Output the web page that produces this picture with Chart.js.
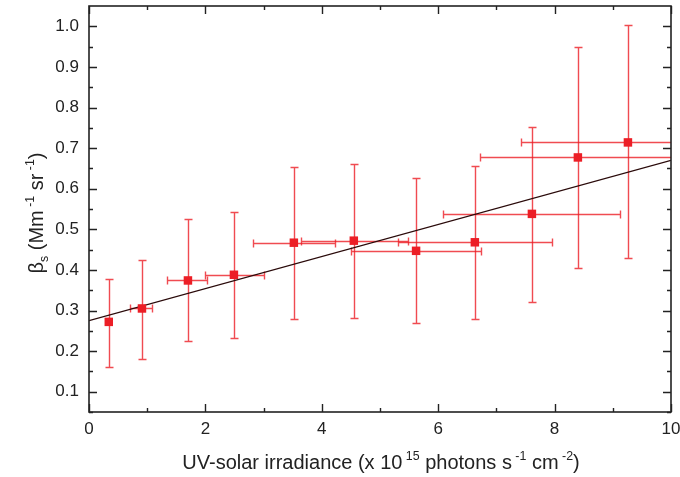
<!DOCTYPE html>
<html>
<head>
<meta charset="utf-8">
<script src="https://cdn.jsdelivr.net/npm/chart.js@4.4.0/dist/chart.umd.min.js"></script>
<style>
  html, body { margin: 0; padding: 0; background: #fff; }
  #wrap { width: 680px; height: 477px; }
</style>
</head>
<body>
<div id="wrap"><canvas id="myChart" width="680" height="477"></canvas></div>
<script>
// measured points (UV irradiance x 1e15, beta_s)
const xVals = [0.34, 0.91, 1.70, 2.49, 3.52, 4.55, 5.62, 6.63, 7.61, 8.40, 9.26];
const yVals = [0.272, 0.305, 0.374, 0.388, 0.467, 0.472, 0.447, 0.468, 0.538, 0.677, 0.714];
const xLow  = [0.34, 0.70, 1.34, 2.00, 2.82, 3.64, 4.50, 5.31, 6.08, 6.72, 7.42];
const xHigh = [0.34, 1.08, 2.03, 3.00, 4.23, 5.48, 6.74, 7.96, 9.12, 10.1, 11.1];
const yLow  = [0.162, 0.181, 0.226, 0.233, 0.280, 0.282, 0.268, 0.280, 0.322, 0.405, 0.430];
const yHigh = [0.378, 0.425, 0.525, 0.543, 0.654, 0.660, 0.626, 0.655, 0.752, 0.948, 1.002];

// linear fit line end points
const fitX = [0, 10];
const fitY = [0.275, 0.670];

const xTickLabels = ['0', '2', '4', '6', '8', '10'];
const yTickLabels = ['0.1', '0.2', '0.3', '0.4', '0.5', '0.6', '0.7', '0.8', '0.9', '1.0'];

const red = 'rgb(236,30,38)';
const barRed = 'rgba(236,30,38,0.8)';
const ink = '#222';
const font = '"Liberation Sans", Arial, sans-serif';

// draw text made of pieces, some raised or lowered
function richText(ctx, parts, size) {
    const widths = parts.map((p) => {
        ctx.font = (p.s ? size * 0.62 : size) + 'px ' + font;
        return ctx.measureText(p.t).width;
    });
    const total = widths.reduce((a, b) => a + b, 0);
    let x = -total / 2;
    parts.forEach((p, i) => {
        ctx.font = (p.s ? size * 0.62 : size) + 'px ' + font;
        const dy = p.s === 'sup' ? -size * 0.45 : p.s === 'sub' ? size * 0.25 : 0;
        ctx.fillText(p.t, x, dy);
        x += widths[i];
    });
}

const errorBars = {
    id: 'errorBars',
    beforeDatasetsDraw(chart) {
        const { ctx, chartArea, scales: { x, y } } = chart;
        ctx.save();
        ctx.beginPath();
        ctx.rect(chartArea.left, chartArea.top, chartArea.right - chartArea.left, chartArea.bottom - chartArea.top);
        ctx.clip();
        ctx.strokeStyle = barRed;
        ctx.lineWidth = 1.4;
        const cap = 4;
        xVals.forEach((xv, i) => {
            const px = Math.round(x.getPixelForValue(xv)) + 0.5;
            const py = Math.round(y.getPixelForValue(yVals[i])) + 0.5;
            const top = Math.round(y.getPixelForValue(yHigh[i])) + 0.5;
            const bot = Math.round(y.getPixelForValue(yLow[i])) + 0.5;
            ctx.beginPath();
            ctx.moveTo(px, top); ctx.lineTo(px, bot);
            ctx.moveTo(px - cap, top); ctx.lineTo(px + cap, top);
            ctx.moveTo(px - cap, bot); ctx.lineTo(px + cap, bot);
            if (xHigh[i] > xLow[i]) {
                const l = Math.round(x.getPixelForValue(xLow[i])) + 0.5;
                const r = Math.round(x.getPixelForValue(xHigh[i])) + 0.5;
                ctx.moveTo(l, py); ctx.lineTo(r, py);
                ctx.moveTo(l, py - cap); ctx.lineTo(l, py + cap);
                ctx.moveTo(r, py - cap); ctx.lineTo(r, py + cap);
            }
            ctx.stroke();
        });
        ctx.restore();
    },
    afterDraw(chart) {
        const { ctx, chartArea: a, scales: { x, y } } = chart;
        ctx.save();
        ctx.strokeStyle = ink;
        ctx.lineWidth = 1.6;
        // frame
        ctx.strokeRect(a.left, a.top, a.right - a.left, a.bottom - a.top);
        ctx.lineWidth = 1.4;
        // x ticks, inward on bottom and top
        for (let v = 0; v <= 10; v += 1) {
            const px = Math.round(x.getPixelForValue(v)) + 0.5;
            const len = v % 2 === 0 ? 8 : 4;
            ctx.beginPath();
            ctx.moveTo(px, a.bottom); ctx.lineTo(px, a.bottom - len);
            ctx.moveTo(px, a.top); ctx.lineTo(px, a.top + len);
            ctx.stroke();
        }
        // y ticks, inward on left and right
        for (let k = 1; k <= 20; k++) {
            const v = 0.05 * k;
            const py = Math.round(y.getPixelForValue(v)) + 0.5;
            const len = k % 2 === 0 ? 8 : 4;
            ctx.beginPath();
            ctx.moveTo(a.left, py); ctx.lineTo(a.left + len, py);
            ctx.moveTo(a.right, py); ctx.lineTo(a.right - len, py);
            ctx.stroke();
        }
        // tick labels
        ctx.fillStyle = ink;
        ctx.font = '17px ' + font;
        ctx.textAlign = 'center';
        ctx.textBaseline = 'middle';
        xTickLabels.forEach((t) => {
            ctx.fillText(t, x.getPixelForValue(Number(t)), a.bottom + 17);
        });
        ctx.textAlign = 'right';
        yTickLabels.forEach((t) => {
            ctx.fillText(t, a.left - 10, y.getPixelForValue(Number(t)));
        });
        // axis titles
        ctx.textAlign = 'left';
        ctx.textBaseline = 'alphabetic';
        ctx.save();
        ctx.translate(381, 469);
        richText(ctx, [
            { t: 'UV-solar irradiance (x 10' }, { t: ' 15', s: 'sup' },
            { t: ' photons s' }, { t: ' -1', s: 'sup' },
            { t: ' cm' }, { t: ' -2', s: 'sup' }, { t: ')' }
        ], 20);
        ctx.restore();
        ctx.save();
        ctx.translate(43, 213);
        ctx.rotate(-Math.PI / 2);
        richText(ctx, [
            { t: '\u03b2' }, { t: 's', s: 'sub' },
            { t: ' (Mm' }, { t: ' -1', s: 'sup' },
            { t: ' sr' }, { t: ' -1', s: 'sup' }, { t: ')' }
        ], 20);
        ctx.restore();
        ctx.restore();
    }
};

const ctx = document.getElementById('myChart').getContext('2d');
const myChart = new Chart(ctx, {
    type: 'scatter',
    data: {
        datasets: [
            {
                label: 'beta_s',
                data: xVals.map((v, i) => ({ x: v, y: yVals[i] })),
                pointStyle: 'rect',
                pointRadius: 6,
                backgroundColor: red,
                borderColor: red,
                borderWidth: 0,
                order: 1,
            },
            {
                label: 'fit',
                type: 'line',
                data: fitX.map((v, i) => ({ x: v, y: fitY[i] })),
                borderColor: '#2a0a0a',
                borderWidth: 1.2,
                pointRadius: 0,
                fill: false,
                order: 2,
            },
        ],
    },
    options: {
        responsive: false,
        animation: false,
        devicePixelRatio: 1,
        layout: { padding: { left: 89, right: 9, top: 6, bottom: 65 } },
        plugins: { legend: { display: false }, tooltip: { enabled: false } },
        scales: {
            x: {
                type: 'linear', min: 0, max: 10,
                ticks: { display: false }, grid: { display: false }, border: { display: false },
                afterFit: (s) => { s.height = 0; },
            },
            y: {
                type: 'linear', min: 0.05, max: 1.05,
                ticks: { display: false }, grid: { display: false }, border: { display: false },
                afterFit: (s) => { s.width = 0; },
            },
        },
    },
    plugins: [errorBars],
});
</script>
</body>
</html>
